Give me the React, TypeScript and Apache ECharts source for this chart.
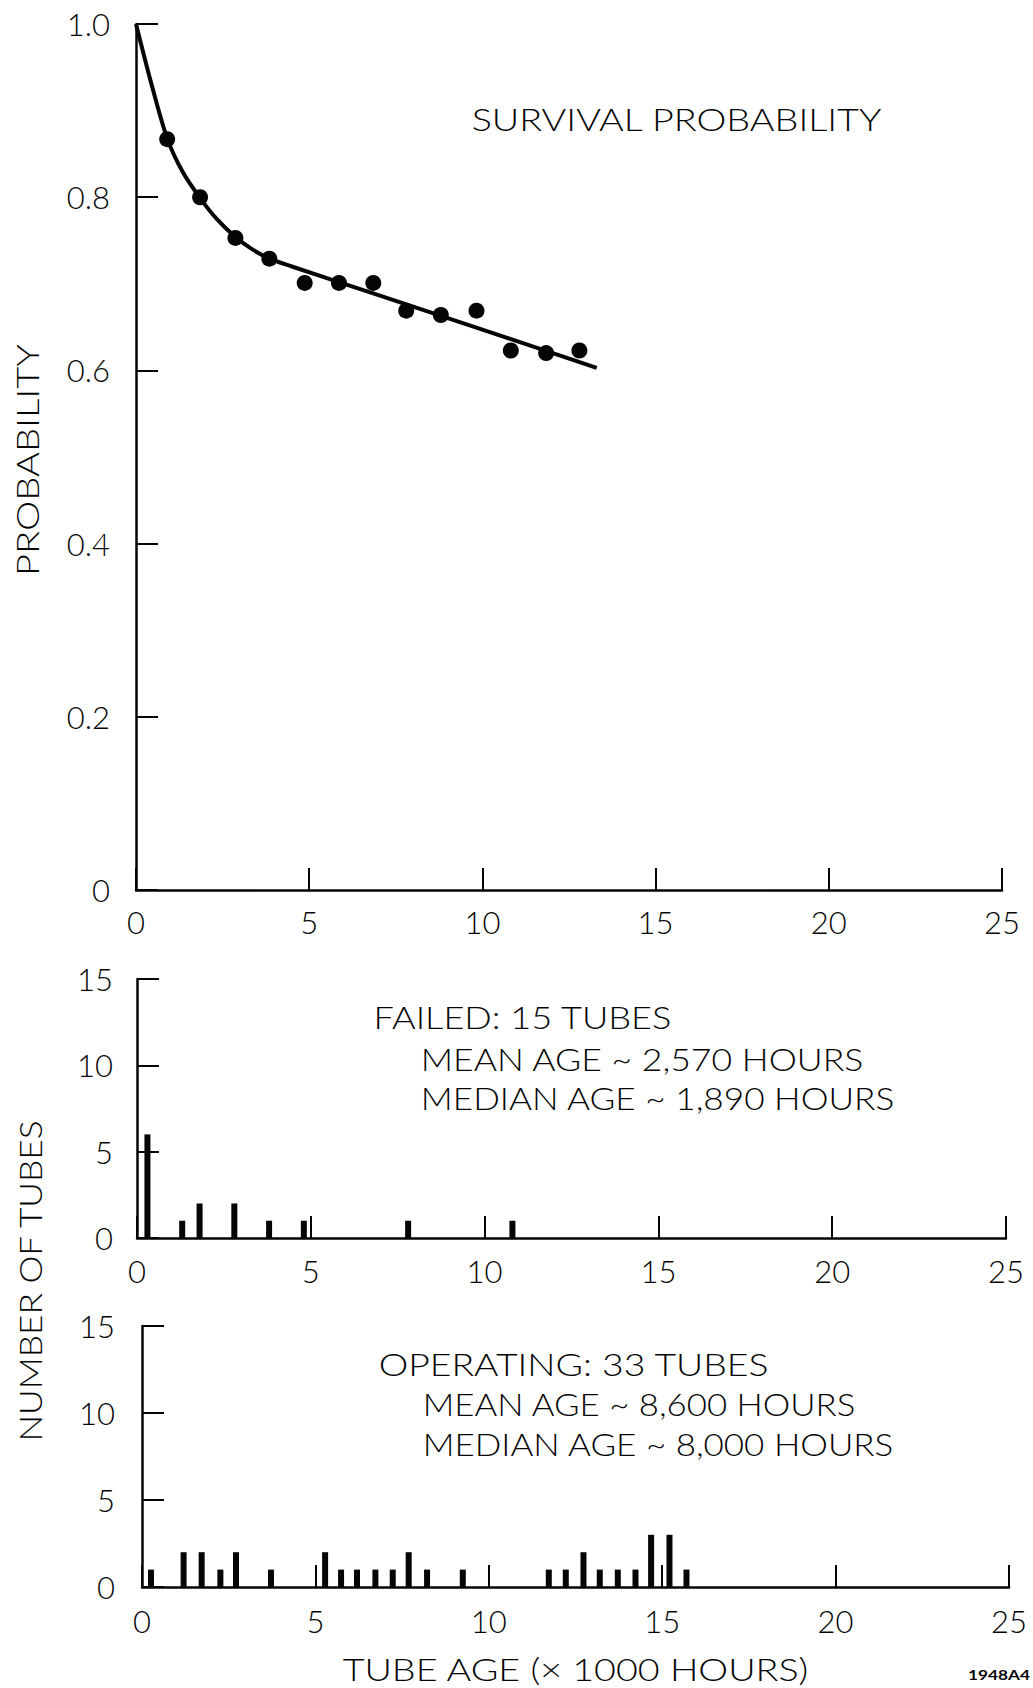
import React, { useEffect, useRef } from 'react';
import * as echarts from 'echarts';

// ---- Data ----
// Survival probability: measured points
const survivalX = [0.9, 1.85, 2.87, 3.85, 4.87, 5.86, 6.85, 7.8, 8.8, 9.83, 10.82, 11.84, 12.8];
const survivalY = [0.867, 0.8, 0.753, 0.729, 0.701, 0.701, 0.701, 0.669, 0.664, 0.669, 0.623, 0.62, 0.623];
// Survival probability: fitted curve (traced)
const curveX = [0, 0.45, 0.9, 1.35, 1.85, 2.35, 2.87, 3.35, 3.85, 4.5, 7.0, 10.0, 13.3];
const curveY = [1.0, 0.93, 0.868, 0.829, 0.799, 0.774, 0.754, 0.74, 0.729, 0.72, 0.687, 0.647, 0.603];
// Failed tubes histogram (age in 1000 h, count)
const failedAge = [0.3, 1.3, 1.8, 2.8, 3.8, 4.8, 7.8, 10.8];
const failedCount = [6, 1, 2, 2, 1, 1, 1, 1];
// Operating tubes histogram
const operatingAge = [0.26, 1.2, 1.72, 2.26, 2.71, 3.72, 5.28, 5.74, 6.2, 6.73, 7.23, 7.69, 8.22, 9.25,
  11.73, 12.22, 12.73, 13.2, 13.72, 14.23, 14.68, 15.21, 15.7];
const operatingCount = [1, 2, 2, 1, 2, 1, 2, 1, 1, 1, 1, 2, 1, 1,
  1, 1, 2, 1, 1, 1, 3, 3, 1];
// Axis ranges / ticks
const ageTicks = [0, 5, 10, 15, 20, 25];
const probTicks = [0, 0.2, 0.4, 0.6, 0.8, 1.0];
const countTicks = [0, 5, 10, 15];

// Texts
const titleSurvival = 'SURVIVAL PROBABILITY';
const failedLines = ['FAILED: 15 TUBES', 'MEAN AGE ~ 2,570 HOURS', 'MEDIAN AGE ~ 1,890 HOURS'];
const operatingLines = ['OPERATING: 33 TUBES', 'MEAN AGE ~ 8,600 HOURS', 'MEDIAN AGE ~ 8,000 HOURS'];
const xAxisTitle = 'TUBE AGE (× 1000 HOURS)';
const probAxisTitle = 'PROBABILITY';
const countAxisTitle = 'NUMBER OF TUBES';
const figId = '1948A4';

const FONT = 'Lato';
const INK = '#050505';

function measure(text: string, font: string): number {
  const ctx = document.createElement('canvas').getContext('2d')!;
  ctx.font = font;
  return ctx.measureText(text).width;
}

function stretchedText(text: string, cx: number, cy: number, targetW: number, size: number,
  rotation = 0, weight: string | number = 300) {
  const w = measure(text, `${weight} ${size}px ${FONT}`) || targetW;
  return {
    type: 'text', x: cx, y: cy, rotation, scaleX: targetW / w, silent: true,
    style: {
      text, x: 0, y: 0, fill: INK, fontSize: size, fontFamily: FONT, fontWeight: weight,
      align: 'center', verticalAlign: 'middle', textAlign: 'center', textVerticalAlign: 'middle',
    },
  };
}

export default function App() {
  const ref = useRef<HTMLDivElement>(null);
  useEffect(() => {
    if (!ref.current) return;
    const chart = echarts.init(ref.current, undefined, { renderer: 'svg' });

    const axisBase = {
      axisLine: { show: true, lineStyle: { color: INK, width: 2.5 } },
      axisTick: { show: true, inside: true, length: 22, lineStyle: { color: INK, width: 2 } },
      splitLine: { show: false },
      axisLabel: { color: INK, fontFamily: FONT, fontSize: 31, fontWeight: 300 },
    };
    const ageAxis = (gridIndex: number, margin: number) => ({
      ...axisBase, type: 'value', gridIndex,
      min: ageTicks[0], max: ageTicks[ageTicks.length - 1], interval: ageTicks[1] - ageTicks[0],
      axisLabel: { ...axisBase.axisLabel, margin },
    });
    const countAxis = (gridIndex: number, margin: number) => ({
      ...axisBase, type: 'value', gridIndex,
      min: countTicks[0], max: countTicks[countTicks.length - 1], interval: countTicks[1] - countTicks[0],
      axisLabel: { ...axisBase.axisLabel, margin },
    });

    const textLayout = [
      { t: titleSurvival, l: 471, r: 882, y: 119 },
      { t: failedLines[0], l: 373, r: 672, y: 1017 },
      { t: failedLines[1], l: 420, r: 864, y: 1059 },
      { t: failedLines[2], l: 420, r: 895, y: 1098 },
      { t: operatingLines[0], l: 378, r: 769, y: 1364 },
      { t: operatingLines[1], l: 422, r: 856, y: 1404 },
      { t: operatingLines[2], l: 422, r: 894, y: 1444 },
      { t: xAxisTitle, l: 342, r: 809, y: 1669 },
    ];
    const graphics: any[] = textLayout.map((d) => stretchedText(d.t, (d.l + d.r) / 2, d.y, d.r - d.l, 31));
    graphics.push(stretchedText(figId, 999, 1675, 62, 13, 0, 'bold'));
    graphics.push(stretchedText(probAxisTitle, 27, 460, 232, 31, Math.PI / 2));
    graphics.push(stretchedText(countAxisTitle, 30, 1281, 323, 31, Math.PI / 2));

    chart.setOption({
      animation: false,
      backgroundColor: '#ffffff',
      grid: [
        { left: 136, top: 24, width: 866, height: 866 },
        { left: 137, top: 979, width: 869, height: 259 },
        { left: 142, top: 1326, width: 867, height: 261 },
      ],
      xAxis: [ageAxis(0, 16), ageAxis(1, 17), ageAxis(2, 18)],
      yAxis: [
        {
          ...axisBase, type: 'value', gridIndex: 0,
          min: probTicks[0], max: probTicks[probTicks.length - 1], interval: probTicks[1] - probTicks[0],
          axisLabel: {
            ...axisBase.axisLabel, margin: 26,
            formatter: (v: number) => (v === 0 ? '0' : v.toFixed(1)),
          },
        },
        countAxis(1, 24),
        countAxis(2, 27),
      ],
      series: [
        {
          type: 'line', xAxisIndex: 0, yAxisIndex: 0, z: 2,
          data: curveX.map((x, i) => [x, curveY[i]]),
          smooth: 0.3, showSymbol: false, symbol: 'none',
          lineStyle: { color: INK, width: 4 },
        },
        {
          type: 'scatter', xAxisIndex: 0, yAxisIndex: 0, z: 3,
          data: survivalX.map((x, i) => [x, survivalY[i]]),
          symbol: 'circle', symbolSize: 16, itemStyle: { color: INK, opacity: 1 },
        },
        {
          type: 'bar', xAxisIndex: 1, yAxisIndex: 1, barWidth: 6,
          data: failedAge.map((x, i) => [x, failedCount[i]]),
          itemStyle: { color: INK, opacity: 1 },
        },
        {
          type: 'bar', xAxisIndex: 2, yAxisIndex: 2, barWidth: 6,
          data: operatingAge.map((x, i) => [x, operatingCount[i]]),
          itemStyle: { color: INK, opacity: 1 },
        },
      ],
      graphic: graphics,
    });
    return () => chart.dispose();
  }, []);

  return (
    <div
      ref={ref}
      style={{ position: 'absolute', left: 0, top: 0, width: 1033, height: 1688, background: '#fff' }}
    />
  );
}
